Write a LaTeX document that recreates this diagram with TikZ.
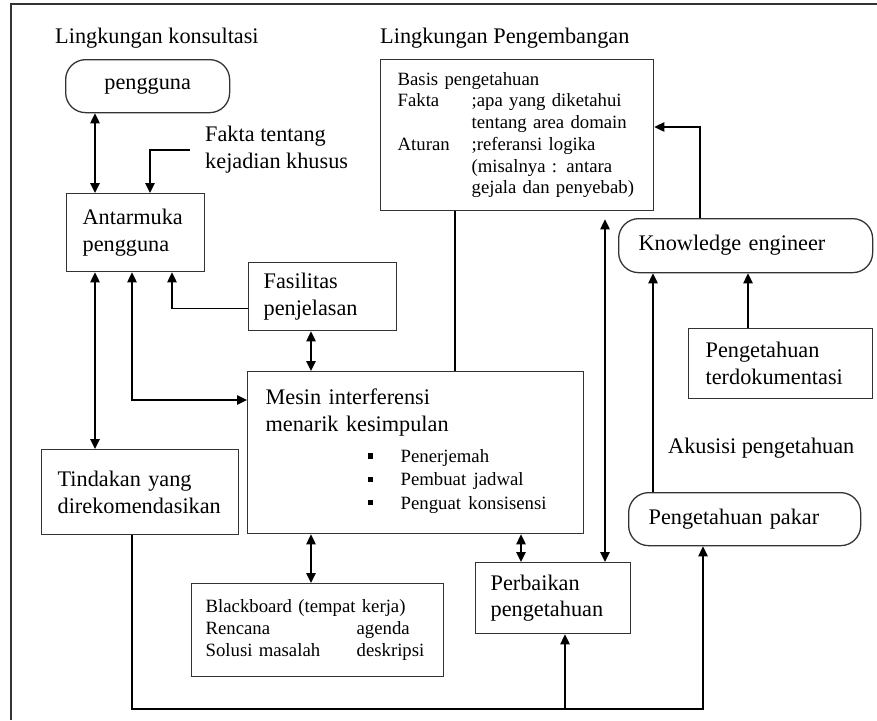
\documentclass[tikz,border=0pt]{standalone}
\usepackage{fontspec}
\setmainfont{Liberation Serif}
\usepackage{tikz}
\usetikzlibrary{arrows.meta}
\newcommand{\bigtxt}{\fontsize{19}{23}\selectfont}
\newcommand{\smalltxt}{\fontsize{16}{18.5}\selectfont}
\newcommand{\blt}{\rule[0.2em]{0.16cm}{0.16cm}}

\begin{document}
\begin{tikzpicture}[x=0.03cm, y=-0.03cm,
  box/.style={draw=black!80, line width=1.1pt, rectangle, anchor=north west, align=left,
              inner xsep=0.48cm, inner ysep=0pt, font=\bigtxt},
  rbox/.style={box, rounded corners=0.6cm},
  note/.style={inner sep=0pt, font=\bigtxt, align=left},
  link/.style={line width=1.3pt},
  >={Triangle[length=0.3cm, width=0.28cm]}]

  \useasboundingbox (0,0) rectangle (877,720);
  \draw[black!80, line width=1.1pt] (11,720) -- (11,4) -- (877,4);

  % judul
  \node[note, anchor=base west] (konsul) at (55,43) {Lingkungan konsultasi};
  \node[note, anchor=base west] (kembang) at (380,43) {Lingkungan Pengembangan};

  % lingkungan konsultasi
  \node[rbox, align=center, minimum width=4.92cm, minimum height=1.59cm] (peng) at (65,59) {pengguna};
  \node[box, text width=3.18cm, minimum height=2.34cm] (antar) at (66,193) {Antarmuka\\pengguna};
  \node[note, anchor=west] (fakta) at (205,150) {Fakta tentang\\kejadian khusus};
  \node[box, inner xsep=0.45cm, text width=3.54cm, minimum height=2.04cm] (fasil) at (248,262) {Fasilitas\\penjelasan};
  \node[box, inner xsep=0.54cm, text width=9cm, minimum height=4.86cm] (mesin) at (247,371)
    {Mesin interferensi\\menarik kesimpulan\\[3pt]
     \hspace*{3.06cm}{\fontsize{16}{20}\selectfont\begin{tabular}[t]{@{}p{0.99cm}@{}l@{}}
       \blt & Penerjemah\\
       \blt & Pembuat jadwal\\
       \blt & Penguat konsisensi
     \end{tabular}}};
  \node[box, text width=4.95cm, minimum height=2.55cm] (tind) at (41,449) {Tindakan yang\\direkomendasikan};
  \node[box, inner xsep=0.42cm, text width=6.72cm, minimum height=2.79cm, font=\smalltxt] (black) at (191,583)
    {\begin{tabular}{@{}p{4.53cm}@{}l@{}}
       \multicolumn{2}{@{}l@{}}{Blackboard (tempat kerja)}\\
       Rencana & agenda\\
       Solusi masalah & deskripsi
     \end{tabular}};
  \node[box, inner xsep=0.45cm, text width=3.75cm, minimum height=2.13cm] (perb) at (475,562) {Perbaikan\\pengetahuan};

  % lingkungan pengembangan
  \node[box, inner xsep=0.51cm, text width=7.17cm, minimum height=4.53cm, font=\smalltxt] (basis) at (380,59)
    {\begin{tabular}{@{}p{2.22cm}@{}l@{}}
       \multicolumn{2}{@{}l@{}}{Basis pengetahuan}\\
       Fakta & ;apa yang diketahui\\
             & tentang area domain\\
       Aturan & ;referansi logika\\
              & (misalnya : antara\\
              & gejala dan penyebab)
     \end{tabular}};
  \node[rbox, inner xsep=0.6cm, text width=6.42cm, minimum height=1.62cm] (ke) at (618,218) {Knowledge engineer};
  \node[box, inner xsep=0.51cm, text width=4.5cm, minimum height=2.1cm] (dok) at (688,328) {Pengetahuan\\terdokumentasi};
  \node[note, anchor=base west] (akusisi) at (668,453) {Akusisi pengetahuan};
  \node[rbox, inner xsep=0.6cm, text width=5.76cm, minimum height=1.59cm] (pakar) at (628,492) {Pengetahuan pakar};

  % titik bantu
  \coordinate (c95) at (95,0);
  \coordinate (c150) at (150,0);
  \coordinate (c172) at (172,0);
  \coordinate (c132) at (132,400);
  \coordinate (c311) at (311,0);
  \coordinate (c455) at (455,0);
  \coordinate (c521) at (521,0);
  \coordinate (c605) at (605,0);
  \coordinate (c700) at (700,127);
  \coordinate (c653) at (653,0);
  \coordinate (c748) at (748,0);
  \coordinate (c703) at (703,0);
  \coordinate (cbot) at (565,709);

  % panah
  \draw[link, <->] (peng.south -| c95) -- (antar.north -| c95);
  \draw[link, ->] ([xshift=-0.45cm]fakta.west) -| (antar.north -| c150);
  \draw[link, ->] ([yshift=-0.36cm]fasil.west) -| (antar.south -| c172);
  \draw[link, <->] (antar.south -| c132) |- (mesin.west |- c132);
  \draw[link, <->] (antar.south -| c95) -- (tind.north -| c95);
  \draw[link, <->] (fasil.south -| c311) -- (mesin.north -| c311);
  \draw[link, <->] (mesin.south -| c311) -- (black.north -| c311);
  \draw[link] (basis.south -| c455) -- (mesin.north -| c455);
  \draw[link, <->] (mesin.south -| c521) -- (perb.north -| c521);
  \draw[link, <->, shorten >=0.24cm] (perb.north -| c605) -- (basis.south -| c605);
  \draw[link, ->] (ke.north -| c700) |- (basis.east |- c700);
  \draw[link, ->] (pakar.north -| c653) -- (ke.south -| c653);
  \draw[link, ->] (dok.north -| c748) -- (ke.south -| c748);
  \draw[link, ->] (tind.south -| c132) |- (cbot) -| (pakar.south -| c703);
  \draw[link, ->] (cbot) -- (perb.south -| cbot);

\end{tikzpicture}
\end{document}
